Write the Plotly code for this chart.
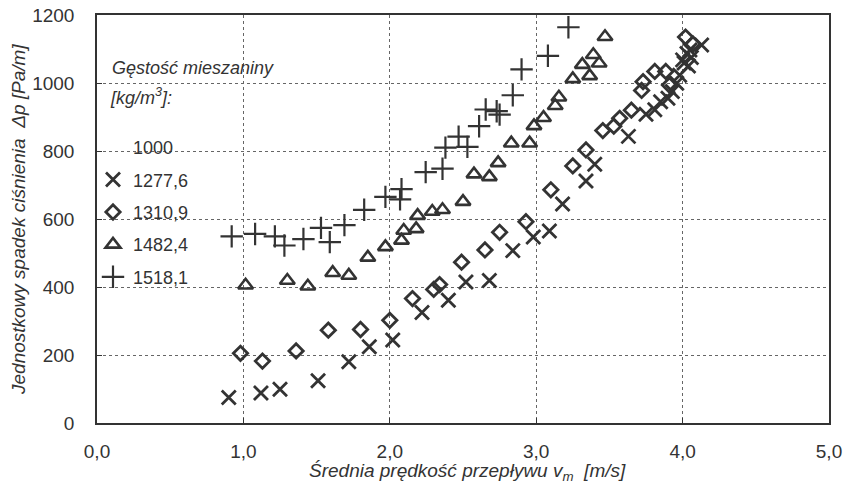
import plotly.graph_objects as go

# ---- data ----
x_1277 = [0.90, 1.12, 1.25, 1.51, 1.72, 1.86, 2.02, 2.22, 2.40, 2.52, 2.68, 2.84, 2.98, 3.09,
          3.18, 3.34, 3.40, 3.63, 3.75, 3.81, 3.85, 3.90, 3.93, 3.96, 3.98, 4.00, 4.01, 4.03,
          4.04, 4.05, 4.06, 4.13]
y_1277 = [75, 88, 99, 124, 180, 224, 244, 325, 361, 415, 419, 507, 547, 565,
          644, 712, 761, 843, 908, 921, 945, 955, 975, 999, 1023, 1068, 1059, 1087,
          1050, 1097, 1075, 1112]

x_1310 = [0.98, 1.13, 1.36, 1.58, 1.80, 2.00, 2.155, 2.30, 2.34, 2.49, 2.65, 2.75, 2.93, 3.10,
          3.25, 3.34, 3.455, 3.53, 3.57, 3.65, 3.72, 3.73, 3.81, 3.885, 3.91, 4.02, 4.07]
y_1310 = [205, 182, 212, 273, 275, 302, 366, 393, 407, 473, 509, 561, 592, 686,
          756, 803, 860, 873, 896, 920, 978, 1004, 1034, 1034, 994, 1135, 1115]

x_1482 = [1.015, 1.30, 1.44, 1.61, 1.72, 1.85, 1.97, 2.08, 2.095, 2.18, 2.19, 2.29, 2.36, 2.50,
          2.575, 2.68, 2.74, 2.83, 2.955, 2.985, 3.05, 3.13, 3.155, 3.25, 3.315, 3.365, 3.39,
          3.43, 3.47]
y_1482 = [405, 419, 402, 442, 434, 487, 518, 537, 566, 571, 610, 622, 627, 651,
          732, 724, 765, 823, 823, 874, 898, 933, 958, 1012, 1054, 1021, 1083,
          1058, 1136]

x_1518 = [0.92, 1.08, 1.215, 1.28, 1.41, 1.53, 1.59, 1.69, 1.825, 1.97, 2.08, 2.07, 2.245,
          2.36, 2.38, 2.47, 2.53, 2.61, 2.655, 2.73, 2.75, 2.84, 2.90, 3.08, 3.22]
y_1518 = [549, 556, 549, 522, 541, 574, 532, 582, 627, 665, 688, 658, 738,
          748, 810, 842, 812, 873, 922, 917, 907, 964, 1040, 1080, 1164]

series_names = ["1000", "1277,6", "1310,9", "1482,4", "1518,1"]
legend_title_1 = "Gęstość mieszaniny"
legend_title_2 = "[kg/m<sup>3</sup>]:"
x_title = "Średnia prędkość przepływu v<sub>m</sub>  [m/s]"
y_title = "Jednostkowy spadek ciśnienia  Δp [Pa/m]"
x_ticks = [0, 1, 2, 3, 4, 5]
x_tick_text = ["0,0", "1,0", "2,0", "3,0", "4,0", "5,0"]
y_ticks = [0, 200, 400, 600, 800, 1000, 1200]

INK = "#333333"
FONT = "Liberation Sans, Arial, sans-serif"

# plot-area geometry in pixels (for placing text in paper coordinates)
PL, PR, PT, PB = 97, 829, 15, 423
def px(xp):
    return (xp - PL) / (PR - PL)
def py(yp):
    return (PB - yp) / (PB - PT)

fig = go.Figure()

# water series: no visible marks in the reference
fig.add_trace(go.Scatter(x=[None], y=[None], mode="markers", name=series_names[0],
                         legendgroup="a",
                         marker=dict(symbol="circle", size=10, color="rgba(0,0,0,0)",
                                     line=dict(width=0))))
fig.add_trace(go.Scatter(x=x_1277, y=y_1277, mode="markers", name=series_names[1],
                         legendgroup="b",
                         marker=dict(symbol="x-thin-open", size=14, color=INK,
                                     line=dict(width=2.8, color=INK))))
fig.add_trace(go.Scatter(x=x_1310, y=y_1310, mode="markers", name=series_names[2],
                         legendgroup="c",
                         marker=dict(symbol="diamond-open", size=11, color=INK,
                                     line=dict(width=2.8, color=INK))))
fig.add_trace(go.Scatter(x=x_1482, y=y_1482, mode="markers", name=series_names[3],
                         legendgroup="d",
                         marker=dict(symbol="triangle-up-open", size=13, color=INK,
                                     line=dict(width=2.6, color=INK))))
fig.add_trace(go.Scatter(x=x_1518, y=y_1518, mode="markers", name=series_names[4],
                         legendgroup="e",
                         marker=dict(symbol="cross-thin-open", size=16, color=INK,
                                     line=dict(width=2.2, color=INK))))

fig.update_layout(
    width=849, height=487,
    margin=dict(l=PL, r=849 - PR, t=PT, b=487 - PB, autoexpand=False),
    paper_bgcolor="white", plot_bgcolor="white",
    font=dict(family=FONT, size=18, color=INK),
    showlegend=True,
    legend=dict(
        x=px(93), y=py(129), xanchor="left", yanchor="top",
        bgcolor="rgba(0,0,0,0)",
        font=dict(family=FONT, size=18, color=INK),
        traceorder="grouped", tracegroupgap=6,
        itemwidth=30,
    ),
    shapes=[
        # white panels behind the legend text that hide the grid, as in the reference
        dict(type="rect", xref="paper", yref="paper", layer="between",
             x0=px(99), x1=px(285), y0=py(117), y1=py(50),
             fillcolor="white", line=dict(width=0)),
        dict(type="rect", xref="paper", yref="paper", layer="between",
             x0=px(99), x1=px(213), y0=py(300), y1=py(128),
             fillcolor="white", line=dict(width=0)),
    ],
    annotations=[
        dict(text="<i>" + legend_title_1 + "</i>", xref="paper", yref="paper",
             x=px(110), y=py(68), xanchor="left", yanchor="middle",
             showarrow=False, font=dict(family=FONT, size=18, color=INK)),
        dict(text="<i>" + legend_title_2 + "</i>", xref="paper", yref="paper",
             x=px(108), y=py(97), xanchor="left", yanchor="middle",
             showarrow=False, font=dict(family=FONT, size=18, color=INK)),
        dict(text="<i>" + x_title + "</i>", xref="paper", yref="paper",
             x=px(467), y=py(472), xanchor="center", yanchor="middle",
             showarrow=False, font=dict(family=FONT, size=19, color=INK)),
        dict(text="<i>" + y_title + "</i>", xref="paper", yref="paper",
             x=px(18), y=py(220), xanchor="center", yanchor="middle", textangle=-90,
             showarrow=False, font=dict(family=FONT, size=19, color=INK)),
    ],
    xaxis=dict(
        range=[0, 5], tickvals=x_ticks, ticktext=x_tick_text, automargin=False,
        showgrid=True, gridcolor="#666666", griddash="dot", gridwidth=1,
        zeroline=False, showline=True, linecolor=INK, linewidth=1.5, mirror=True,
        ticks="inside", ticklen=5, tickcolor=INK, ticklabelstandoff=10,
        tickfont=dict(size=19, color=INK),
    ),
    yaxis=dict(
        range=[0, 1200], tickvals=y_ticks, automargin=False,
        showgrid=True, gridcolor="#666666", griddash="dot", gridwidth=1,
        zeroline=False, showline=True, linecolor=INK, linewidth=1.5, mirror=True,
        ticks="inside", ticklen=5, tickcolor=INK, ticklabelstandoff=17,
        tickfont=dict(size=19, color=INK),
    ),
)

fig.write_html("out.html", config={"displayModeBar": False},
               post_script="document.body.style.margin='0px';")
